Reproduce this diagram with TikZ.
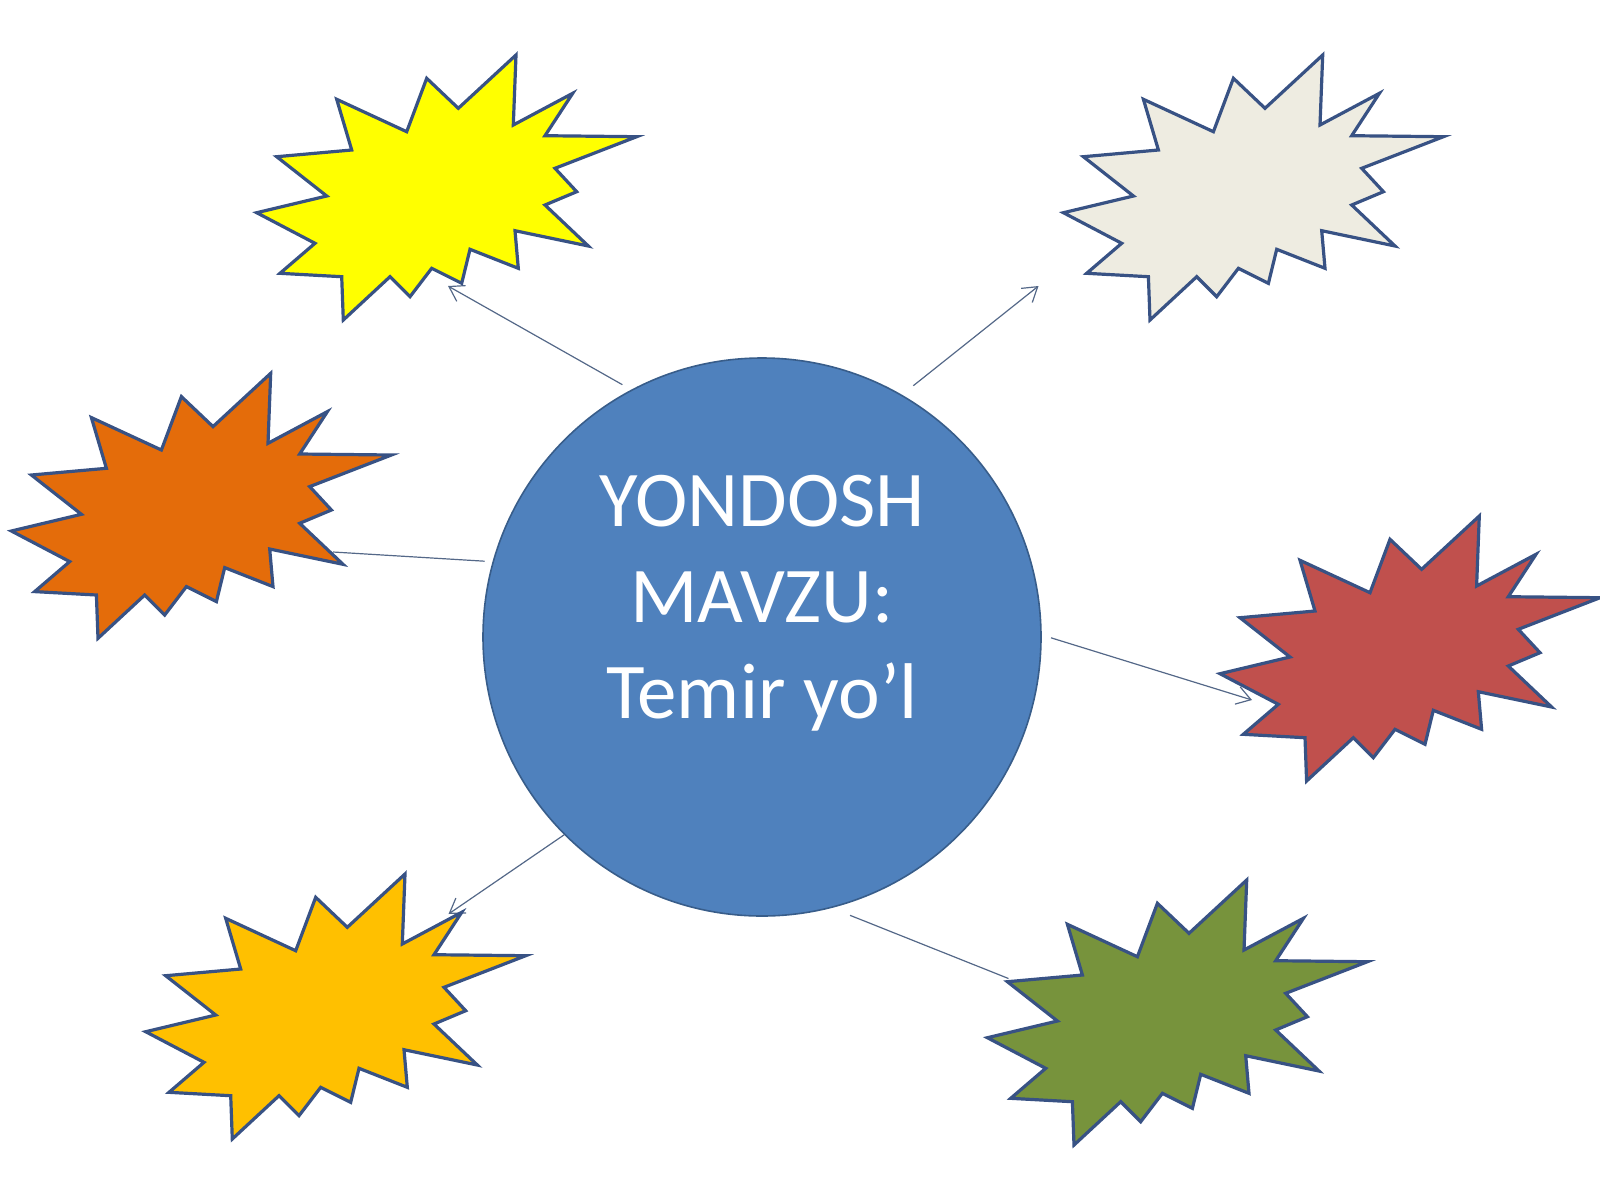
\documentclass[tikz,border=0pt]{standalone}
\usepackage{fontspec}
\setmainfont{Carlito}
\usetikzlibrary{arrows.meta}
\definecolor{starline}{RGB}{56,82,132}
\definecolor{conncol}{RGB}{84,104,136}
\definecolor{circfill}{RGB}{79,129,189}
\definecolor{circline}{RGB}{56,93,138}
\definecolor{cYellow}{RGB}{255,255,0}
\definecolor{cGray}{RGB}{238,236,225}
\definecolor{cOrange}{RGB}{228,108,10}
\definecolor{cRed}{RGB}{192,80,77}
\definecolor{cGold}{RGB}{255,192,0}
\definecolor{cGreen}{RGB}{119,147,60}
\tikzset{
  x=0.5pt, y=-0.5pt,
  conn/.style={draw=conncol, line width=0.6pt},
  connarrow/.style={conn, -{Straight Barb[length=7pt,width=9pt,line width=0.6pt]}},
  burst/.pic={
    \path[draw=starline, line width=1.6pt, line join=miter, fill=#1]
      (0,0) -- (-2.7,70) -- (56.7,38.3) -- (29,80.7) -- (120.7,81.7)
      -- (39,113.3) -- (60.7,136.7) -- (29,150) -- (72.3,191) -- (-1,175.7)
      -- (2.3,213.3) -- (-46,194.3) -- (-54.3,228.3) -- (-84.3,213.3)
      -- (-106,241.7) -- (-126,221.7) -- (-172.7,265) -- (-174.3,221.7)
      -- (-236,218.3) -- (-201,188.3) -- (-259.3,157.7) -- (-189.3,141)
      -- (-239.3,101.7) -- (-164.3,95) -- (-179.3,44.3) -- (-109.3,76.7)
      -- (-89.3,23.3) -- (-57.7,53.3) -- cycle;
    \coordinate (-c) at (-69,132);
  },
  hub/.style={circle, fill=circfill, draw=circline, line width=0.8pt,
    minimum size=279pt, inner sep=0pt},
  hubtext/.style={text=white, font=\fontsize{39.5}{48}\selectfont,
    inner sep=0pt, anchor=base}
}
\begin{document}
\begin{tikzpicture}
\useasboundingbox (0,0) rectangle (1600,1200);
% hub
\node[hub] (c) at (762,637) {};
% connector starts (just outside the hub) and ends
\coordinate (sy) at (622.4,384.7);
\coordinate (sg) at (913.3,385.7);
\coordinate (so) at (484.7,561.2);
\coordinate (sr) at (1051,637.8);
\coordinate (sb) at (564.3,834.7);
\coordinate (sq) at (850,915.3);
\coordinate (ay) at (448,286);
\coordinate (ag) at (1038.5,286);
\coordinate (ao) at (333,552);
\coordinate (ar) at (1252,700);
\coordinate (ab) at (448.5,914);
\coordinate (aq) at (1008.5,978.5);
\draw[connarrow] (sy) -- (ay);
\draw[connarrow] (sg) -- (ag);
\draw[conn] (so) -- (ao);
\draw[connarrow] (sr) -- (ar);
\draw[connarrow] (sb) -- (ab);
\draw[conn] (sq) -- (aq);
% bursts
\pic (ys) at (516,55) {burst=cYellow};
\pic (gs) at (1322.7,55) {burst=cGray};
\pic (os) at (270.7,373.3) {burst=cOrange};
\pic (rs) at (1479.3,516) {burst=cRed};
\pic (bs) at (405,874) {burst=cGold};
\pic (qs) at (1246.7,880) {burst=cGreen};
% hub text
\node[hubtext] (t1) at (762,526) {YONDOSH};
\node[hubtext] (t2) at (762,622) {MAVZU:};
\node[hubtext] (t3) at (762,718) {Temir yo’l};
\end{tikzpicture}
\end{document}
